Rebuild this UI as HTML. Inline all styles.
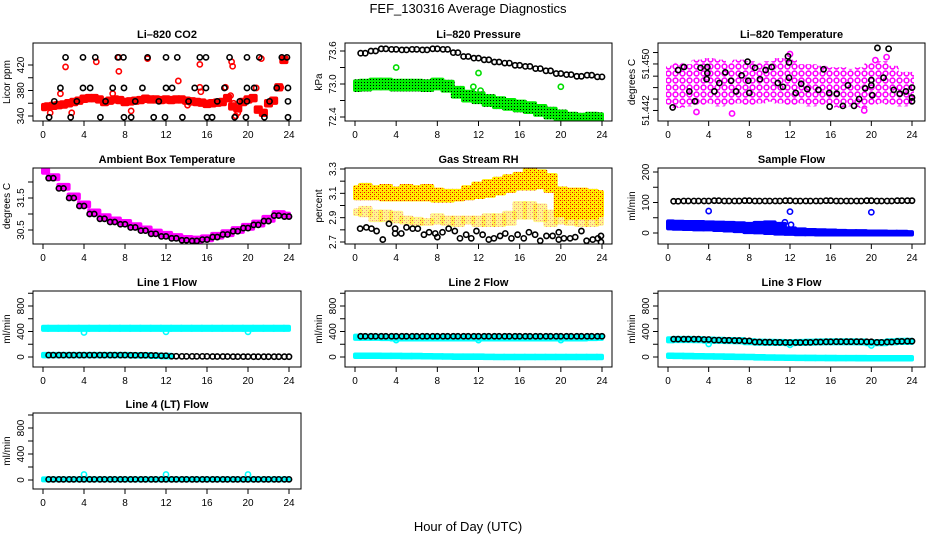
<!DOCTYPE html>
<html><head><meta charset="utf-8">
<style>
html,body{margin:0;padding:0;background:#fff;}
svg{display:block;font-family:"Liberation Sans",sans-serif;}
</style></head>
<body>
<svg id="c" width="936" height="540" viewBox="0 0 936 540">
<defs>
<pattern id="pGreen" width="3" height="3" patternUnits="userSpaceOnUse"><rect width="3" height="3" fill="#00ee00"/><rect x="1" y="1" width="1" height="1" fill="#000"/></pattern>
<pattern id="pOrange" width="4" height="4" patternUnits="userSpaceOnUse"><rect width="4" height="4" fill="#ffee00"/><rect x="0" y="0" width="1" height="1" fill="#ee0000"/><rect x="2" y="2" width="1" height="1" fill="#ee0000"/><rect x="2" y="0" width="1" height="1" fill="#ff8800"/></pattern>
<pattern id="pPink" width="7" height="7" patternUnits="userSpaceOnUse"><rect width="7" height="7" fill="#fff"/><circle cx="3.5" cy="3.5" r="2.4" fill="none" stroke="#ff00ff" stroke-width="1.6"/></pattern>
</defs>
<text x="468" y="13" text-anchor="middle" font-size="13">FEF_130316  Average Diagnostics</text>
<text x="468" y="531" text-anchor="middle" font-size="13">Hour of Day (UTC)</text>
</svg>
<script>
// ---------- data ----------
const hours = [0,1,2,3,4,5,6,7,8,9,10,11,12,13,14,15,16,17,18,19,20,21,22,23,24];
// CO2
const co2RedHalfHour = [354,355,356,357,358,360,362,364,367,368,368,366,362,364,366,365,362,363,364,365,367,366,366,365,366,365,366,366,364,363,362,361,359,360,361,362,368,355,352,362,366,368,350,345,360,364,385,428];
const co2Black = [[2.2,432],[3.9,432],[5.1,432],[7.3,432],[7.85,432],[10.2,432],[12.0,432],[13.1,432],[15.3,432],[15.9,432],[18.2,432],[19.9,432],[21.1,432],[23.3,432],[23.8,432],
[1.7,384],[3.9,384],[4.6,384],[6.8,384],[7.9,384],[9.7,384],[12.0,384],[12.6,384],[14.8,384],[15.9,384],[17.7,384],[19.9,384],[20.6,384],[22.8,384],[23.9,384],
[1.1,363],[3.3,363],[6.1,363],[9.0,363],[11.3,363],[14.2,363],[17.0,363],[19.2,363],[19.9,363],[22.1,363],[23.9,363],
[0.6,338],[2.7,338],[5.6,338],[7.9,338],[8.6,338],[10.8,338],[11.9,338],[13.6,338],[16.0,338],[16.5,338],[18.7,338],[19.8,338],[21.6,338],[23.9,338]];
const co2RedOut = [[2.2,417],[5.2,425],[7.4,410],[15.3,421],[18.4,425],[18.5,418],[13.2,395],[1.7,375],[6.8,375],[0.7,345],[2.8,345],[8.6,348],[14.1,357],[21.6,344],[21.3,430],[23.5,430],[23.2,385],[20.8,384],[15.3,385],[15.4,378],[17.8,385],[18.3,372],[18.6,360],[18.8,340],[19.0,345],[10.2,430],[7.4,432]];
// Ambient temperature
const ambPink = [32.35,32.15,31.85,31.55,31.3,31.05,30.9,30.8,30.72,30.62,30.52,30.42,30.35,30.28,30.22,30.2,30.24,30.32,30.4,30.5,30.6,30.7,30.85,31.0,30.95];
const ambBlack = [null,32.12,31.8,31.5,31.25,31.0,30.85,30.75,30.68,30.58,30.48,30.38,30.3,30.24,30.18,30.16,30.2,30.28,30.36,30.46,30.56,30.66,30.78,30.95,30.92];
// Pressure
const presBlack = [null,73.56,73.6,73.64,73.63,73.62,73.63,73.62,73.64,73.63,73.57,73.5,73.47,73.44,73.4,73.38,73.34,73.32,73.28,73.24,73.19,73.17,73.14,73.16,73.13];
const presGreen = [72.97,72.98,73.0,73.0,72.98,72.98,72.98,72.97,73.0,72.96,72.85,72.78,72.75,72.7,72.66,72.63,72.6,72.57,72.52,72.47,72.42,72.38,72.36,72.38,72.37];
const presGreenOut = [[4,73.3],[12,73.2],[20,72.95],[11.5,72.95],[12.2,72.88]];
// Li-820 temperature
const tempBlack = [[0.46,51.4426],[1.0,51.4475],[1.57,51.4479],[2.1,51.4447],[2.65,51.4434],[3.2,51.4478],[3.87,51.4479],[3.87,51.4471],[3.8,51.4463],[4.56,51.4447],[5.05,51.4458],[5.64,51.4472],[6.2,51.4461],[6.7,51.4447],[7.24,51.4468],[7.83,51.4486],[7.9,51.4461],[8.0,51.4445],[8.56,51.4478],[9.05,51.4463],[9.6,51.4475],[10.2,51.4479],[10.8,51.4458],[11.3,51.4453],[11.8,51.4493],[11.9,51.4485],[11.9,51.4465],[12.56,51.4445],[13.1,51.4457],[13.7,51.445],[14.8,51.4449],[15.3,51.4476],[15.86,51.4445],[15.9,51.4427],[16.6,51.4444],[17.2,51.4428],[17.7,51.4455],[18.3,51.4428],[18.8,51.4437],[19.4,51.4451],[20.0,51.4462],[20.0,51.4455],[20.1,51.4442],[20.6,51.4504],[21.2,51.4465],[21.7,51.4503],[22.2,51.4449],[22.8,51.4444],[23.4,51.4447],[24.0,51.4452],[24.0,51.4434],[24.0,51.4439]];
const tempPinkLo = [51.4432,51.4428,51.4430,51.4432,51.4434,51.4430,51.4432,51.4434,51.4432,51.4434,51.4436,51.4434,51.4432,51.4434,51.4430,51.4432,51.4432,51.4428,51.4430,51.4428,51.4432,51.4434,51.4432,51.4430,51.4432];
const tempPinkHi = [51.4478,51.4482,51.4480,51.4486,51.4488,51.4486,51.4482,51.4486,51.4484,51.4482,51.4484,51.4488,51.4486,51.4480,51.4480,51.4478,51.4476,51.4476,51.4474,51.4476,51.4482,51.4484,51.4478,51.4470,51.4470];
const tempPinkOut = [[6.3,51.4418],[12.0,51.4496],[21.5,51.4492],[20.4,51.4488],[2.8,51.4420],[19.3,51.4422]];
// Gas stream RH
const rhBlack = [[0.5,2.81],[1.1,2.82],[1.6,2.81],[2.1,2.79],[2.7,2.72],[3.3,2.85],[3.9,2.81],[3.9,2.77],[4.5,2.77],[5.0,2.82],[5.6,2.81],[6.1,2.81],[6.7,2.76],[7.2,2.78],[7.8,2.77],[8.0,2.74],[8.5,2.78],[9.1,2.81],[9.7,2.79],[10.2,2.73],[10.8,2.76],[11.3,2.73],[11.8,2.79],[12.4,2.76],[13.0,2.72],[13.5,2.73],[14.1,2.75],[14.6,2.77],[15.2,2.73],[15.8,2.76],[16.4,2.73],[16.9,2.78],[17.5,2.76],[18.0,2.71],[18.6,2.75],[19.2,2.75],[19.8,2.72],[19.8,2.78],[20.3,2.73],[20.9,2.73],[21.4,2.74],[22.0,2.79],[22.5,2.71],[23.1,2.72],[23.6,2.73],[23.9,2.75],[23.9,2.70]];
const rhMainLo = [3.06,3.06,3.06,3.05,3.05,3.05,3.05,3.05,3.04,3.04,3.05,3.06,3.07,3.08,3.1,3.12,3.14,3.14,3.15,3.12,2.92,2.9,2.9,2.9,2.92];
const rhMainHi = [3.15,3.17,3.15,3.16,3.14,3.16,3.15,3.16,3.13,3.12,3.12,3.15,3.18,3.2,3.22,3.24,3.26,3.3,3.28,3.25,3.14,3.13,3.13,3.12,3.11];
const rhLowLo = [2.93,2.92,2.88,2.88,2.87,2.86,2.85,2.85,2.86,2.85,2.84,2.86,2.84,2.84,2.84,2.85,2.9,2.9,2.88,2.84,2.86,2.85,2.84,2.84,2.85];
const rhLowHi = [2.96,2.98,2.95,2.95,2.94,2.9,2.89,2.88,2.92,2.9,2.9,2.9,2.9,2.92,2.92,2.94,3.02,3.02,3.0,2.95,2.94,2.9,2.88,2.9,2.9];
// Sample flow
const sampleBlack = [null,104,105,105,105,106,105,105,106,105,105,105,106,105,105,105,106,105,105,105,106,105,105,106,106];
const sampleBlueLo = [15,14,13,12,12,10,8,6,3,2,0,-2,-3,-4,-4,-5,-5,-5,-5,-5,-5,-5,-5,-5,-5];
const sampleBlueHi = [38,37,36,36,35,34,33,32,30,33,35,30,15,12,10,9,8,7,6,6,5,5,4,4,3];
const sampleBlueOut = [[4,72],[12,70],[20,68],[11.5,35],[12.1,27]];
// Line flows
const line1Black = [null,30,30,30,30,30,30,30,30,28,28,25,20,12,10,10,10,8,8,6,6,5,5,5,5];
const line1Cyan = [450,450,450,450,450,450,450,450,450,450,450,450,450,450,450,450,450,450,450,450,450,450,450,450,450];
const line1CyanLow = [30,30,30,30,30,30,30,30,30,25,25,20,15,null,null,null,null,null,null,null,null,null,null,null,null];
const line1Out = [[4,385],[12,395],[20,395]];
const line2Black = [null,325,325,325,325,325,325,325,325,325,325,325,325,325,325,325,325,325,325,325,325,325,325,325,325];
const line2Cyan = [310,310,310,305,300,300,300,300,300,300,300,300,300,300,300,300,300,300,300,300,300,300,300,305,310];
const line2CyanLow = [20,20,20,18,18,15,15,12,10,8,5,5,5,2,0,0,0,0,0,0,0,0,0,0,0];
const line2Out = [[4,265],[12,265],[20,265]];
const line3Black = [null,280,280,280,275,265,262,258,252,235,232,230,228,228,230,235,238,240,240,240,238,230,235,245,248];
const line3Cyan = [270,275,275,272,265,262,258,255,240,232,230,228,225,228,232,236,238,238,238,236,225,225,238,245,245];
const line3CyanLow = [20,18,15,12,10,8,5,2,0,-5,-8,-10,-12,-14,-15,-16,-17,-18,-18,-19,-20,-20,-20,-20,-20];
const line3Out = [[4,205],[12,190],[20,180]];
const line4Black = [null,10,10,10,10,10,10,10,10,10,10,10,10,10,10,10,10,10,10,10,10,10,10,10,10];
const line4Cyan = [10,10,10,10,10,10,10,10,10,10,10,10,10,10,10,10,10,10,10,10,10,10,10,10,10];
const line4Out = [[4,85],[12,85],[20,85]];
const xTicks = [0,4,8,12,16,20,24];

// ---------- layout ----------
const SVG = document.getElementById('c');
const NS = 'http://www.w3.org/2000/svg';
const COLS = [{l:33,r:301,x0:43,x24:289},{l:345,r:612,x0:355,x24:602},{l:658,r:925,x0:668,x24:912}];
const ROWS = [{t:43,b:121},{t:168,b:244},{t:291,b:367},{t:413,b:489}];
function mk(tag, attrs, parent){ const e=document.createElementNS(NS,tag); for(const k in attrs) e.setAttribute(k,attrs[k]); (parent||SVG).appendChild(e); return e; }

function panel(name, col, row, title, ylab, yv1, yp1, yv2, yp2, yTicks, yLabels){
  const C=COLS[col], R=ROWS[row];
  const g=mk('g',{});
  
  
  const xs = h => C.x0 + (h/24)*(C.x24-C.x0);
  const ys = v => yp1 + (v-yv1)*(yp2-yp1)/(yv2-yv1);
  const clipId='clip-'+name;
  const cp=mk('clipPath',{id:clipId},g); mk('rect',{x:C.l,y:R.t,width:C.r-C.l,height:R.b-R.t},cp);
  const plot=mk('g',{'clip-path':'url(#'+clipId+')'},g);
  
  
  const box=mk('rect',{x:C.l,y:R.t,width:C.r-C.l,height:R.b-R.t,fill:'none',stroke:'#000','stroke-width':1},g);
  
  
  const t=mk('text',{x:(C.l+C.r)/2,y:R.t-5,'text-anchor':'middle','font-size':11,'font-weight':'bold'},g); t.textContent=title;
  
  
  const xa=mk('g',{},g);
  
  
  mk('line',{x1:xs(0),x2:xs(24),y1:R.b,y2:R.b,stroke:'#000'},xa);
  xTicks.forEach(h=>{ mk('line',{x1:xs(h),x2:xs(h),y1:R.b,y2:R.b+5,stroke:'#000'},xa);
    const tl=mk('text',{x:xs(h),y:R.b+17,'text-anchor':'middle','font-size':10},xa); tl.textContent=h;
    
     });
  const ya=mk('g',{},g);
  
  
  yTicks.forEach((v,i)=>{ const y=ys(v); mk('line',{x1:C.l-5,x2:C.l,y1:y,y2:y,stroke:'#000'},ya);
    if(yLabels[i]!==''){ const tl=mk('text',{x:0,y:0,'text-anchor':'middle','font-size':10,transform:`translate(${C.l-9},${y}) rotate(-90)`},ya); tl.textContent=yLabels[i];
      
       } });
  const yl=mk('text',{x:0,y:0,'text-anchor':'middle','font-size':10,transform:`translate(${C.l-23},${(R.t+R.b)/2}) rotate(-90)`},g); yl.textContent=ylab;
  
  
  return {plot,xs,ys};
}
function ring(p,x,y,color,nm){ const c=mk('circle',{cx:x,cy:y,r:2.6,fill:'none',stroke:color,'stroke-width':1.6},p.plot);
  
   return c; }
function pts(p,arr,color,nm){ arr.forEach(d=>ring(p,p.xs(d[0]),p.ys(d[1]),color,nm)); }
function hourlyRings(p,arr,color,nm){ arr.forEach((v,i)=>{ if(v===null) return; ring(p,p.xs(i-0.45),p.ys(v),color,nm); ring(p,p.xs(i),p.ys(v),color,nm); }); }
function band(p,lo,hi,step,fill,nm,op){ lo.forEach((l,i)=>{ const h=hi[i]; if(l===null||h===null) return;
  const a=Math.max(0,i*step-step/2), b=Math.min(24,i*step+step/2);
  const x=p.xs(a)-2, w=p.xs(b)-p.xs(a)+4; const y1=p.ys(h), y2=p.ys(l);
  const r=mk('rect',{x:x,y:Math.min(y1,y2)-2,width:w,height:Math.abs(y2-y1)+4,fill:fill,rx:2,opacity:op||1},p.plot);
  
   }); }
function thick(p,arr,step,half,fill,nm){ band(p,arr.map(v=>v===null?null:v-half),arr.map(v=>v===null?null:v+half),step,fill,nm); }

// CO2
let p=panel('co2',0,0,'Li\u2013820 CO2','Licor ppm',340,116,420,65,[340,360,380,400,420],['340','','380','','420']);
thick(p,co2RedHalfHour,0.5,3.5,'#ff0000','co2-red-band');
pts(p,co2RedOut,'#ff0000','co2-red-point');
pts(p,co2Black,'#000','co2-black-point');
// Pressure
p=panel('pressure',1,0,'Li\u2013820 Pressure','kPa',73.6,51,72.4,117,[72.4,72.7,73.0,73.3,73.6],['72.4','','73.0','','73.6']);
thick(p,presGreen,1,0.08,'url(#pGreen)','pressure-green-band');
pts(p,presGreenOut,'#00dd00','pressure-green-point');
hourlyRings(p,presBlack,'#000','pressure-black-point');
// Li-820 temperature
p=panel('li820-temp',2,0,'Li\u2013820 Temperature','degrees C',51.450,51,51.442,112,[51.4498,51.4483,51.4467,51.4452,51.4437,51.4422],['','51.450','','','','51.442']);
band(p,tempPinkLo,tempPinkHi,1,'url(#pPink)','temp-pink-band');
pts(p,tempPinkOut,'#ff00ff','temp-pink-point');
pts(p,tempBlack,'#000','temp-black-point');
// Ambient box temp
p=panel('ambient-temp',0,1,'Ambient Box Temperature','degrees C',30.5,230,31.5,198,[30.5,31,31.5,32],['30.5','','31.5','']);
thick(p,ambPink,1,0.06,'#ff00ff','ambient-pink-band');
hourlyRings(p,ambBlack,'#000','ambient-black-point');
// RH
p=panel('rh',1,1,'Gas Stream RH','percent',3.3,169,2.7,242,[2.7,2.8,2.9,3.0,3.1,3.2,3.3],['2.7','','2.9','','3.1','','3.3']);
band(p,rhMainLo,rhMainHi,1,'url(#pOrange)','rh-orange-band');
band(p,rhLowLo,rhLowHi,1,'url(#pOrange)','rh-orange-low-band',0.45);
pts(p,rhBlack,'#000','rh-black-point');
// Sample flow
p=panel('sample-flow',2,1,'Sample Flow','ml/min',0,233,200,172,[0,50,100,150,200],['0','','100','','200']);
band(p,sampleBlueLo,sampleBlueHi,1,'#0000ff','sample-blue-band');
pts(p,sampleBlueOut,'#0000ff','sample-blue-point');
hourlyRings(p,sampleBlack,'#000','sample-black-point');
// Line flows
const lt=[0,200,400,600,800,1000], ll=['0','','400','','800',''];
p=panel('line1-flow',0,2,'Line 1 Flow','ml/min',0,357,800,306,lt,ll);
thick(p,line1Cyan,1,25,'#00ffff','line1-cyan-band');
thick(p,line1CyanLow,1,20,'#00ffff','line1-cyan-low-band');
pts(p,line1Out,'#00ffff','line1-cyan-point');
hourlyRings(p,line1Black,'#000','line1-black-point');
p=panel('line2-flow',1,2,'Line 2 Flow','ml/min',0,357,800,306,lt,ll);
thick(p,line2Cyan,1,25,'#00ffff','line2-cyan-band');
thick(p,line2CyanLow,1,20,'#00ffff','line2-cyan-low-band');
pts(p,line2Out,'#00ffff','line2-cyan-point');
hourlyRings(p,line2Black,'#000','line2-black-point');
p=panel('line3-flow',2,2,'Line 3 Flow','ml/min',0,357,800,306,lt,ll);
thick(p,line3Cyan,1,25,'#00ffff','line3-cyan-band');
thick(p,line3CyanLow,1,20,'#00ffff','line3-cyan-low-band');
pts(p,line3Out,'#00ffff','line3-cyan-point');
hourlyRings(p,line3Black,'#000','line3-black-point');
p=panel('line4-flow',0,3,'Line 4 (LT) Flow','ml/min',0,480,800,428,lt,ll);
thick(p,line4Cyan,1,15,'#00ffff','line4-cyan-band');
pts(p,line4Out,'#00ffff','line4-cyan-point');
hourlyRings(p,line4Black,'#000','line4-black-point');
</script>
</body></html>
